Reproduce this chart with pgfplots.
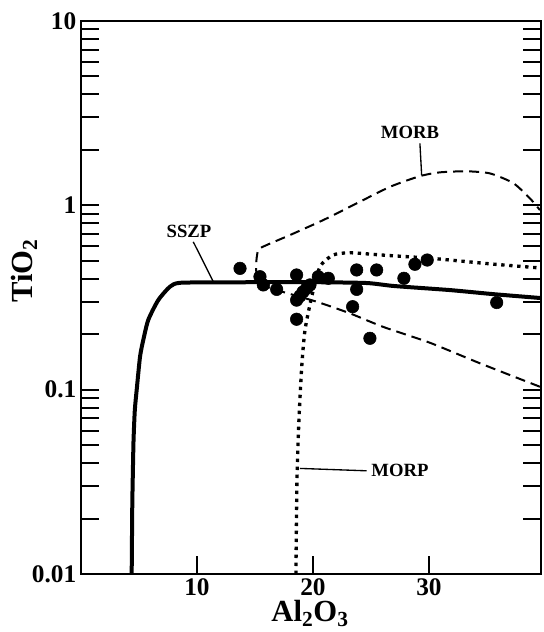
\documentclass[border=0pt]{standalone}
\usepackage{pgfplots}
\pgfplotsset{compat=1.18}
\usepackage{fontspec}
\setmainfont{Liberation Serif}
\begin{document}
\begin{tikzpicture}
\begin{axis}[
  scale only axis, width=345pt, height=414.75pt,
  xmin=0, xmax=39.66, ymode=log, ymin=0.01, ymax=10,
  xtick={10,20,30}, ytick={0.01,0.1,1,10},
  yticklabels={0.01,0.1,1,10},
  xtick pos=bottom, ytick pos=both,
  tick align=inside,
  major tick length=13.5pt, minor tick length=13.5pt,
  every tick/.style={line width=1.5pt, black},
  axis line style={line width=1.5pt},
  tick label style={font=\fontsize{19}{22}\selectfont\bfseries},
  /pgf/number format/assume math mode=true,
  xlabel={Al\textsubscript{2}O\textsubscript{3}},
  ylabel={TiO\textsubscript{2}},
  label style={font=\fontsize{23}{26}\selectfont\bfseries},
  xlabel style={at={(axis description cs:0.498,-0.072)}, anchor=center},
  ylabel style={at={(axis description cs:-0.124,0.548)}, anchor=center},
  clip=false,
]
\path ([xshift=-60.75pt,yshift=-43.5pt]rel axis cs:0,0) rectangle ([xshift=1.5pt,yshift=15.75pt]rel axis cs:1,1);
% SSZP
\addplot[line width=3pt, smooth, tension=0.4] coordinates {
(4.37,0.01)(4.42,0.0232)(4.47,0.0352)(4.53,0.0533)(4.64,0.0775)(4.80,0.0995)(5.09,0.151)(5.37,0.186)(5.80,0.239)(6.66,0.306)(7.67,0.362)(8.53,0.380)(12,0.382)(16,0.383)(20,0.383)(24.6,0.379)(27,0.365)(31.8,0.347)(35.5,0.33)(39.66,0.314)};
% MORP
\addplot[line width=2.5pt, dash pattern=on 2.5pt off 3.5pt, smooth, tension=0.4] coordinates {
(18.53,0.01)(18.62,0.0323)(18.79,0.0684)(19.03,0.133)(19.31,0.21)(19.89,0.319)(20.60,0.464)(21.72,0.537)(23.19,0.553)(26.03,0.537)(29.83,0.518)(31.81,0.505)(35.5,0.48)(39.66,0.457)};
% MORB
\addplot[line width=1.5pt, dash pattern=on 7.5pt off 4.5pt, smooth, tension=0.4] coordinates {
(39.57,0.1037)(34.40,0.139)(30.09,0.1796)(26.06,0.219)(23.19,0.2594)(20.32,0.300)(16.87,0.347)(15.69,0.370)(15.17,0.419)(15.09,0.474)(15.28,0.572)(16.01,0.609)(18.02,0.690)(20.89,0.832)(23.77,1.025)(26.64,1.26)(29.22,1.44)(30.95,1.51)(33.25,1.53)(35.26,1.49)(37.27,1.32)(38.71,1.09)(39.57,0.942)};
% leader lines
\addplot[line width=1pt] coordinates {(9.68,0.634)(11.41,0.385)};
\addplot[line width=1pt] coordinates {(29.22,2.17)(29.37,1.46)};
\addplot[line width=1pt] coordinates {(18.88,0.0374)(24.63,0.0363)};
% samples
\addplot[only marks, mark=*, mark size=4.7pt, black] coordinates {
(13.71,0.455)(15.43,0.410)(15.72,0.370)(16.87,0.350)(18.59,0.419)(18.59,0.306)(18.88,0.322)(19.14,0.339)(19.46,0.355)(19.74,0.370)(20.46,0.410)(21.32,0.402)(18.59,0.241)(23.77,0.446)(25.49,0.446)(23.77,0.350)(23.42,0.282)(24.91,0.190)(27.84,0.402)(28.79,0.479)(29.85,0.505)(35.84,0.297)};
\node[font=\fontsize{14}{16}\selectfont\bfseries] at (axis cs:9.31,0.726) {SSZP};
\node[font=\fontsize{14}{16}\selectfont\bfseries] at (axis cs:28.36,2.50) {MORB};
\node[font=\fontsize{14}{16}\selectfont\bfseries, anchor=west] at (axis cs:24.63,0.0366) {MORP};
\end{axis}
\end{tikzpicture}
\end{document}
